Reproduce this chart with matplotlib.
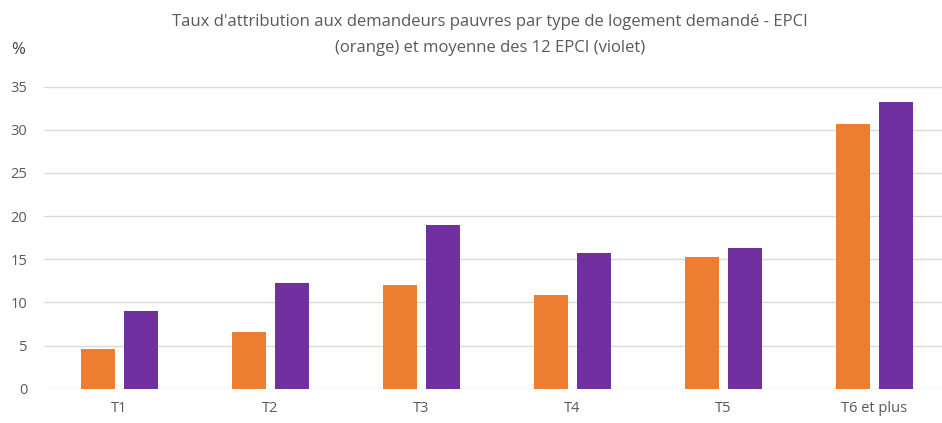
import matplotlib
matplotlib.use("Agg")
import matplotlib.pyplot as plt
import numpy as np

categories = ["T1", "T2", "T3", "T4", "T5", "T6 et plus"]
epci = [4.6, 6.6, 12.0, 10.9, 15.3, 30.7]
moyenne = [9.0, 12.2, 19.0, 15.7, 16.3, 33.2]
yticks = [0, 5, 10, 15, 20, 25, 30, 35]

plt.rcParams['font.family'] = ['Open Sans', 'DejaVu Sans']
W, H = 942, 423
fig = plt.figure(figsize=(W/100, H/100), dpi=100)
left, right = 44, 942
bottom, top = 388.7, 86.7
ax = fig.add_axes([left/W, 1 - bottom/H, (right-left)/W, (bottom-top)/H])

x = np.arange(len(categories))
bw = 0.225
off = 0.142
ax.bar(x - off, epci, bw, color="#ED7D31", zorder=3)
ax.bar(x + off, moyenne, bw, color="#7030A0", zorder=3)

ax.set_xlim(-0.5, 5.5 - 8/151)
ax.set_ylim(0, 35)
ax.set_yticks(yticks)
ax.grid(axis='y', color="#d9d9d9", lw=1.0, zorder=0)
for s in ax.spines.values():
    s.set_visible(False)
ax.tick_params(axis='both', length=0, colors="#595959", labelsize=10.5)
ax.tick_params(axis='y', pad=12)
ax.tick_params(axis='x', pad=9)
ax.set_xticks(x)
ax.set_xticklabels(categories)

fig.text(490/W, 1 - 22/H, "Taux d'attribution aux demandeurs pauvres par type de logement demandé - EPCI",
         ha='center', va='center', fontsize=12, color="#595959")
fig.text(490/W, 1 - 48/H, "(orange) et moyenne des 12 EPCI (violet)",
         ha='center', va='center', fontsize=12, color="#595959")
fig.text(18/W, 1 - 50/H, "%", ha='center', va='center', fontsize=12, color="#404040")

fig.savefig("out.png", dpi=100)
